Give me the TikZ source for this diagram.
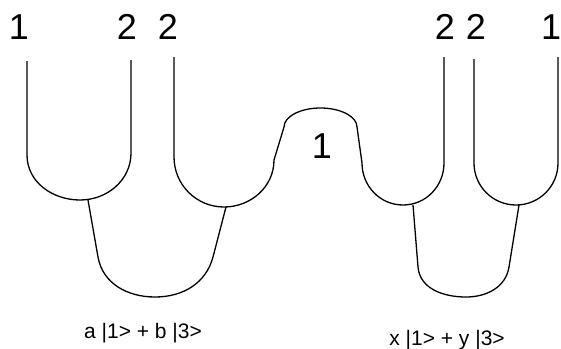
\documentclass[tikz,border=0pt]{standalone}
\usepackage{fontspec}
\setmainfont{Liberation Sans}

\begin{document}
\begin{tikzpicture}[
  x=1pt, y=1pt,
  wire/.style={draw=black, line width=1.3pt, line join=round},
  big/.style={inner sep=0pt, anchor=base, font=\fontsize{36}{40}\selectfont},
  amp/.style={inner sep=0pt, anchor=base, font=\fontsize{21}{24}\selectfont}
]
\useasboundingbox (0,0) rectangle (561,-348);

% strand ends
\coordinate (t1) at (27,-61);
\coordinate (t2) at (131,-60);
\coordinate (t3) at (174,-57);
\coordinate (t4) at (444,-57);
\coordinate (t5) at (474,-59);
\coordinate (t6) at (558,-57);
% joints
\coordinate (j1) at (88,-200);
\coordinate (j2) at (226,-207);
\coordinate (j3) at (413,-205);
\coordinate (j4) at (519,-205);

% labels
\node[big] (n1)  at (19,-39)   {1};
\node[big] (n2)  at (127,-39)  {2};
\node[big] (n3)  at (168,-39)  {2};
\node[big] (n4)  at (445,-39)  {2};
\node[big] (n5)  at (476,-39)  {2};
\node[big] (n6)  at (551,-39)  {1};
\node[big] (mid) at (322,-158) {1};
\node[amp] (sa)  at (143,-338) {a |1> + b |3>};
\node[amp] (sb)  at (447,-345) {x |1> + y |3>};

% left
\draw[wire] (t1) -- (27,-155) to[out=-90,in=180] (80,-200)
  to[out=0,in=-90] (131,-153) -- (t2);
\draw[wire] (j1) -- (98,-257) to[out=-80,in=180] (155,-297)
  to[out=0,in=-105] (213,-257) -- (j2);

% middle strand with the bump
\draw[wire] (t3) -- (174,-157) to[out=-90,in=180] (224,-207)
  to[out=0,in=-90] (274,-160) -- (284,-127)
  arc[start angle=180, end angle=0, x radius=36.5, y radius=19]
  -- (362,-163) to[out=-90,in=180] (403,-205)
  to[out=0,in=-90] (444,-163) -- (t4);

% right
\draw[wire] (t5) -- (474,-163) to[out=-90,in=180] (516,-205)
  to[out=0,in=-90] (558,-163) -- (t6);
\draw[wire] (j3) -- (418,-267) to[out=-85,in=180] (466,-297)
  to[out=0,in=-99] (509,-267) -- (j4);
\end{tikzpicture}
\end{document}
